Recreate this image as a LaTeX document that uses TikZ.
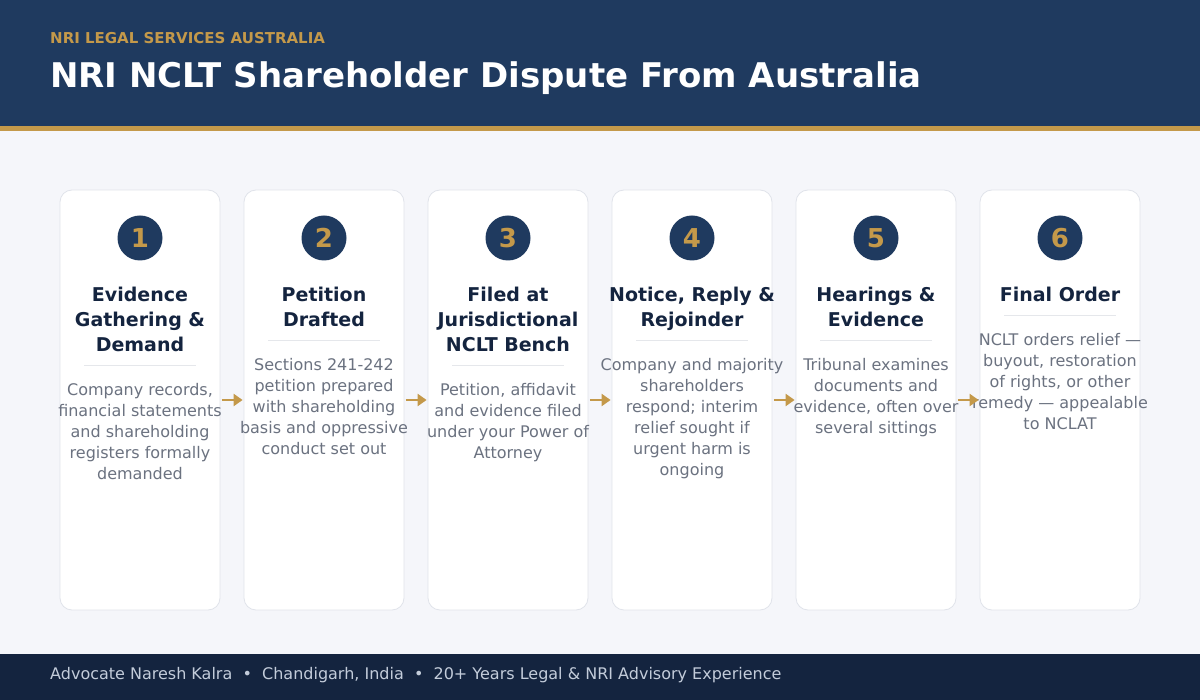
\documentclass[tikz,border=0pt]{standalone}
\usepackage{fontspec}
\setmainfont{DejaVu Sans}
\usetikzlibrary{arrows.meta}
\definecolor{hdr}{HTML}{1F3A5F}
\definecolor{gold}{HTML}{C4994A}
\definecolor{ftr}{HTML}{14243F}
\definecolor{bgc}{HTML}{F5F6FA}
\definecolor{cardline}{HTML}{E0E3EA}
\definecolor{ttl}{HTML}{14243F}
\definecolor{desc}{HTML}{6B7280}
\definecolor{sepc}{HTML}{E5E7EB}
\definecolor{ftxt}{HTML}{C3CCDA}
\tikzset{
  card/.style={draw=cardline, line width=0.8pt, fill=white, rounded corners=12pt, minimum width=160pt, minimum height=420pt, inner sep=0pt},
  num/.style={circle, fill=hdr, minimum size=45pt, inner sep=0pt, text=gold, font=\fontsize{26}{26}\selectfont\bfseries},
  ctitle/.style={align=center, inner sep=0pt, text=ttl, font=\fontsize{19}{25}\selectfont\bfseries},
  cdesc/.style={align=center, inner sep=0pt, text=desc, font=\fontsize{16}{21}\selectfont},
  sepline/.style={draw=sepc, line width=0.8pt},
  arr/.style={draw=gold, line width=2.5pt, -{Triangle[length=9pt,width=12pt]}, shorten <=1.5pt, shorten >=1pt}
}
\newcommand{\stepcard}[5]{%
  \node[card] (c#1) at (#2,400) {};
  \node[num] (n#1) at (#2,238) {#1};
  \node[ctitle, anchor=north] (t#1) at (#2,286.5) {#3};
  \pgfmathsetmacro\sepy{315+25*(#4-1)}
  \coordinate (sl#1) at (#2-56,\sepy);
  \coordinate (sr#1) at (#2+56,\sepy);
  \draw[sepline] (sl#1) -- (sr#1);
  \node[cdesc, anchor=north] (d#1) at (#2,\sepy+18.5) {#5};
}
\begin{document}
\begin{tikzpicture}[x=1pt,y=-1pt]
\useasboundingbox (0,0) rectangle (1200,700);
\fill[bgc] (0,0) rectangle (1200,700);
\fill[hdr] (0,0) rectangle (1200,126);
\fill[gold] (0,126) rectangle (1200,131);
\fill[ftr] (0,654) rectangle (1200,700);
\node[anchor=base west, inner sep=0pt, text=gold, font=\fontsize{15}{15}\selectfont\bfseries] (sub) at (50,44) {NRI LEGAL SERVICES AUSTRALIA};
\node[anchor=base west, inner sep=0pt, text=white, font=\fontsize{34}{34}\selectfont\bfseries] (title) at (50,88) {NRI NCLT Shareholder Dispute From Australia};
\node[anchor=base west, inner sep=0pt, text=ftxt, font=\fontsize{16}{16}\selectfont] (foot) at (50,679) {Advocate Naresh Kalra~~•~~Chandigarh, India~~•~~20+ Years Legal \& NRI Advisory Experience};
\stepcard{1}{140}{Evidence\\Gathering \&\\Demand}{3}{Company records,\\financial statements\\and shareholding\\registers formally\\demanded}
\stepcard{2}{324}{Petition\\Drafted}{2}{Sections 241-242\\petition prepared\\with shareholding\\basis and oppressive\\conduct set out}
\stepcard{3}{508}{Filed at\\Jurisdictional\\NCLT Bench}{3}{Petition, affidavit\\and evidence filed\\under your Power of\\Attorney}
\stepcard{4}{692}{Notice, Reply \&\\Rejoinder}{2}{Company and majority\\shareholders\\respond; interim\\relief sought if\\urgent harm is\\ongoing}
\stepcard{5}{876}{Hearings \&\\Evidence}{2}{Tribunal examines\\documents and\\evidence, often over\\several sittings}
\stepcard{6}{1060}{Final Order}{1}{NCLT orders relief —\\buyout, restoration\\of rights, or other\\remedy — appealable\\to NCLAT}
\foreach \a/\b in {1/2,2/3,3/4,4/5,5/6}{
  \draw[arr] (c\a) -- (c\b);
}
\end{tikzpicture}
\end{document}
